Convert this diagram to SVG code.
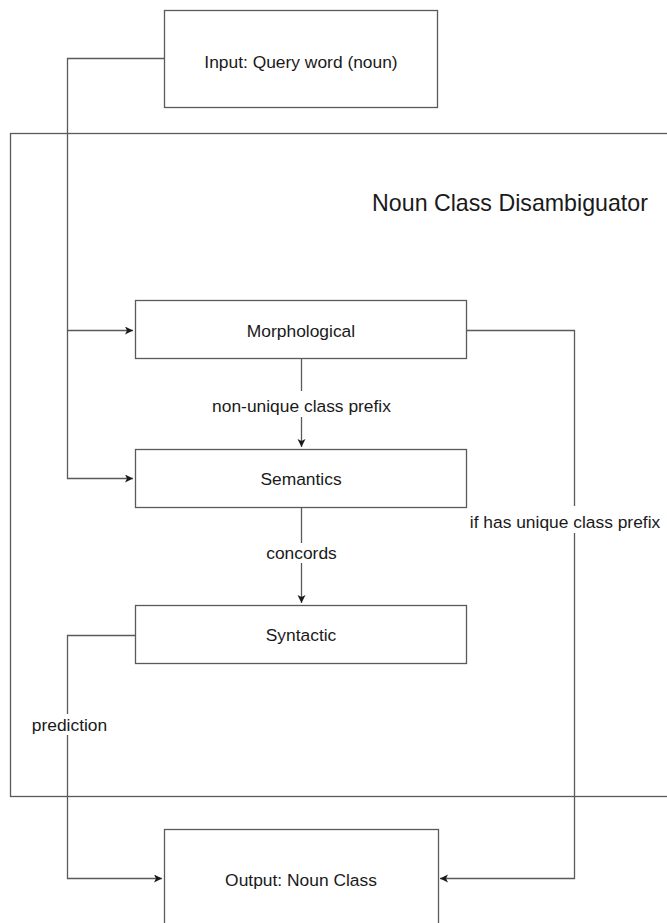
<svg xmlns="http://www.w3.org/2000/svg" width="667" height="923" viewBox="0 0 667 923">
<style>
.box{fill:#ffffff;stroke:#5a5a5a;stroke-width:1.3}
.cont{fill:none;stroke:#5a5a5a;stroke-width:1.3}
.edge{fill:none;stroke:#5a5a5a;stroke-width:1.3}
.t{font-family:"Liberation Sans",Arial,Helvetica,sans-serif;font-size:17.4px;fill:#1a1a1a;text-anchor:middle}
.title{font-size:23.2px}
.lbg{fill:#ffffff;stroke:none}
</style>
<defs>
<marker id="arr" markerUnits="userSpaceOnUse" markerWidth="10" markerHeight="10" refX="8" refY="4" orient="auto">
<path d="M0,0 L8,4 L0,8 L2,4 z" fill="#1a1a1a"/>
</marker>
</defs>
<rect width="667" height="923" fill="#ffffff"/>
<g id="container">
<rect class="cont" x="10.5" y="133.5" width="700" height="663"/>
<text class="t title" x="510" y="211">Noun Class Disambiguator</text>
</g>
<g id="connectors">
<path class="edge" d="M164,58.5 H67.5 V330.5 H133" marker-end="url(#arr)"/>
<path class="edge" d="M67.5,330.5 V478.5 H133" marker-end="url(#arr)"/>
<path class="edge" d="M301.5,359 V447" marker-end="url(#arr)"/>
<path class="edge" d="M301.5,507 V603" marker-end="url(#arr)"/>
<path class="edge" d="M466,330.5 H574.5 V878.5 H440" marker-end="url(#arr)"/>
<path class="edge" d="M135,635.5 H67.5 V878.5 H162" marker-end="url(#arr)"/>
<rect class="lbg" x="210" y="391" width="183" height="26"/>
<text class="t" x="301.5" y="412">non-unique class prefix</text>
<rect class="lbg" x="260" y="543" width="82" height="20"/>
<text class="t" x="301.5" y="559">concords</text>
<rect class="lbg" x="467" y="506" width="200" height="27"/>
<text class="t" x="565" y="528">if has unique class prefix</text>
<rect class="lbg" x="30" y="714" width="80" height="21"/>
<text class="t" x="69.5" y="731">prediction</text>
</g>
<g id="input">
<rect class="box" x="164.5" y="10.5" width="273" height="97"/>
<text class="t" x="301" y="68">Input: Query word (noun)</text>
</g>
<g id="morphological">
<rect class="box" x="135.5" y="300.5" width="331" height="58"/>
<text class="t" x="301" y="337">Morphological</text>
</g>
<g id="semantics">
<rect class="box" x="135.5" y="449.5" width="331" height="58"/>
<text class="t" x="301" y="485">Semantics</text>
</g>
<g id="syntactic">
<rect class="box" x="135.5" y="605.5" width="331" height="58"/>
<text class="t" x="301" y="641">Syntactic</text>
</g>
<g id="output">
<rect class="box" x="164.5" y="829.5" width="274" height="100"/>
<text class="t" x="301" y="886">Output: Noun Class</text>
</g>
</svg>
